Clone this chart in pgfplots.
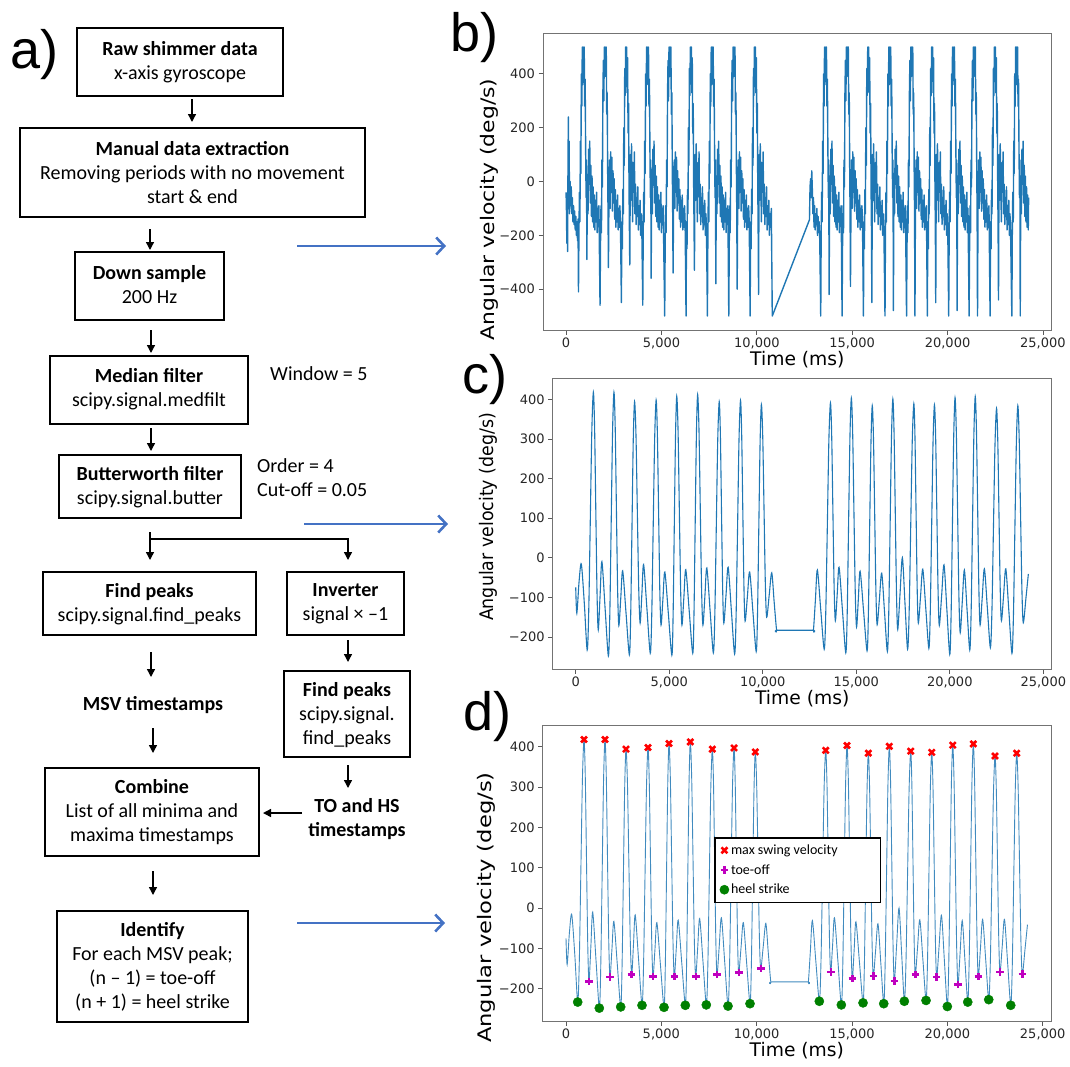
\documentclass[border=0pt]{standalone}
\usepackage{pgfplots}
\pgfplotsset{compat=1.18}
\usepackage{pgfplotstable}
\usepackage{fontspec}
\setmainfont{Carlito}
\newfontfamily\dejavu{DejaVu Sans}
\newfontfamily\arialf{Liberation Sans}
\usetikzlibrary{arrows.meta}

\definecolor{c0}{HTML}{1F77B4}
\definecolor{flowblue}{HTML}{4472C4}
\definecolor{mplgreen}{rgb}{0,0.5,0}
\definecolor{mplmag}{rgb}{0.75,0,0.75}

% filtered gyroscope signal (panels c and d)
\pgfplotstableread{
t v
0 -75
60 -140
180 -60
300 -16
460 -115
613 -233
696 -135
779 93
861 320
944 418
1010 328
1075 118
1141 -92
1206 -182
1303 -96
1400 -10
1573 -129
1746 -248
1821 -148
1896 85
1970 318
2045 418
2111 330
2176 123
2242 -83
2307 -171
2409 -102
2510 -33
2689 -139
2868 -245
2938 -149
3008 75
3077 298
3147 394
3222 310
3296 114
3371 -81
3445 -165
3538 -91
3630 -17
3808 -129
3986 -241
4065 -145
4143 79
4222 302
4300 398
4366 313
4432 114
4497 -85
4563 -170
4664 -103
4765 -36
4953 -141
5140 -246
5206 -148
5271 81
5337 310
5402 408
5472 321
5541 119
5611 -83
5680 -170
5783 -100
5885 -30
6071 -136
6257 -241
6323 -143
6388 86
6454 314
6519 412
6590 325
6661 121
6731 -83
6802 -170
6906 -98
7010 -26
7184 -133
7358 -240
7437 -145
7516 77
7594 299
7673 394
7735 310
7796 114
7858 -81
7919 -165
8035 -95
8150 -24
8323 -134
8496 -243
8575 -147
8654 77
8732 301
8811 397
8873 313
8934 118
8996 -76
9057 -160
9179 -98
9300 -36
9475 -137
9650 -237
9720 -143
9789 75
9859 293
9928 387
9999 306
10070 118
10140 -69
10211 -150
10346 -94
10480 -38
10610 -112
10740 -183
10800 -183
12650 -183
12710 -183
12815 -107
12920 -31
13100 -131
13285 -231
13369 -138
13453 80
13536 298
13620 391
13686 308
13751 116
13817 -77
13882 -159
13981 -92
14080 -24
14260 -132
14439 -240
14514 -144
14588 82
14663 307
14737 403
14807 316
14876 114
14946 -88
15015 -175
15110 -105
15205 -34
15391 -135
15577 -235
15647 -142
15716 75
15786 291
15855 384
15920 301
15986 107
16051 -86
16116 -169
16238 -104
16360 -39
16512 -138
16663 -237
16736 -141
16810 82
16883 305
16956 401
17021 314
17087 110
17152 -94
17217 -181
17341 -90
17465 0
17604 -115
17743 -231
17827 -138
17911 79
17994 296
18078 389
18138 306
18198 112
18258 -82
18318 -165
18437 -97
18555 -29
18718 -129
18881 -229
18956 -137
19031 79
19105 294
19180 386
19245 302
19310 107
19375 -87
19440 -171
19565 -95
19690 -18
19844 -131
19998 -244
20069 -147
20140 80
20210 307
20281 404
20350 315
20420 107
20489 -100
20558 -189
20669 -110
20780 -31
20924 -132
21068 -233
21141 -137
21215 87
21288 311
21361 407
21426 320
21492 118
21557 -83
21622 -170
21736 -99
21850 -28
22010 -128
22169 -227
22252 -136
22334 75
22417 286
22499 377
22565 297
22630 109
22696 -79
22761 -159
22878 -94
22995 -28
23159 -135
23323 -241
23402 -147
23480 72
23559 290
23637 384
23710 302
23784 110
23857 -82
23930 -164
24075 -100
24200 -41
}\filtered

\pgfplotstableread{
t v
944 418
2045 418
3147 394
4300 398
5402 408
6519 412
7673 394
8811 397
9928 387
13620 391
14737 403
15855 384
16956 401
18078 389
19180 386
20281 404
21361 407
22499 377
23637 384
}\msv

\pgfplotstableread{
t v
1206 -182
2307 -171
3445 -165
4563 -170
5680 -170
6802 -170
7919 -165
9057 -160
10211 -150
13882 -159
15015 -175
16116 -169
17217 -181
18318 -165
19440 -171
20558 -189
21622 -170
22761 -159
23930 -164
}\toeoff

\pgfplotstableread{
t v
613 -233
1746 -248
2868 -245
3986 -241
5140 -246
6257 -241
7358 -240
8496 -243
9650 -237
13285 -231
14439 -240
15577 -235
16663 -237
17743 -231
18881 -229
19998 -244
21068 -233
22169 -227
23323 -241
}\heel

\pgfplotsset{
  sigaxis/.style={
    scale only axis,
    scaled x ticks=false, scaled y ticks=false,
    axis line style={black!55, line width=0.8pt},
    every tick/.style={black!65, line width=0.8pt},
    tick align=outside, tick pos=left, major tick length=4.5pt,
    xtick={0,5000,10000,15000,20000,25000},
    xticklabels={0,{5,000},{10,000},{15,000},{20,000},{25,000}},
    ticklabel style={font=\dejavu\fontsize{13}{15}\selectfont, text=black!85},
    xlabel={Time (ms)},
    every axis x label/.style={at={(axis description cs:0.5,0)}, anchor=base, yshift=-35pt, inner sep=0pt,
      font=\dejavu\fontsize{18.7}{22}\selectfont},
  }
}

\tikzset{
  ft/.style={align=center, font=\fontsize{20}{24}\selectfont, inner sep=0pt},
  bx/.style={line width=1.8pt},
  arr/.style={line width=1.4pt, -{Triangle[length=8pt,width=8pt]}},
  barr/.style={flowblue, line width=2.6pt, -{Straight Barb[length=8pt,width=17pt,line width=2.6pt]}},
  ylab/.style={rotate=90, anchor=center, inner sep=0pt, font=\dejavu\fontsize{18.7}{22}\selectfont},
}

\begin{document}
\begin{tikzpicture}
\path[use as bounding box] (0pt,0pt) rectangle (1070pt,-1066pt);

\begin{scope}[x=1pt,y=-1pt]
% panel letters
\node[font=\arialf\fontsize{54}{60}\selectfont, anchor=base west, inner sep=0pt] at (10,68) {a)};
\node[font=\arialf\fontsize{54}{60}\selectfont, anchor=base west, inner sep=0pt] at (450,51.7) {b)};
\node[font=\arialf\fontsize{54}{60}\selectfont, anchor=base west, inner sep=0pt] at (462,393.3) {c)};
\node[font=\arialf\fontsize{54}{60}\selectfont, anchor=base west, inner sep=0pt] at (463,730) {d)};

% flowchart boxes
\draw[bx] (77,28) rectangle (283,96);
\node[ft] at (180,62) {\textbf{Raw shimmer data}\\x-axis gyroscope};
\draw[bx] (20,128) rectangle (365,217);
\node[ft] at (192.5,172.5) {\textbf{Manual data extraction}\\Removing periods with no movement\\start \& end};
\draw[bx] (75,252) rectangle (224,320);
\node[ft] at (149.5,285) {\textbf{Down sample}\\200 Hz};
\draw[bx] (50,356) rectangle (248,424);
\node[ft] at (149,389) {\textbf{Median filter}\\scipy.signal.medfilt};
\node[ft, anchor=west] at (270,374) {Window = 5};
\draw[bx] (59,455) rectangle (241,518);
\node[ft] at (150,487) {\textbf{Butterworth filter}\\scipy.signal.butter};
\node[ft, anchor=west, align=left] at (257,478) {Order = 4\\Cut-off = 0.05};
\draw[bx] (43,572) rectangle (256,635);
\node[ft] at (149.5,604) {\textbf{Find peaks}\\scipy.signal.find\_peaks};
\draw[bx] (287,572) rectangle (404,635);
\node[ft] at (345.5,604) {\textbf{Inverter}\\signal × –1};
\draw[bx] (284,671) rectangle (410,757);
\node[ft] at (347,715) {\textbf{Find peaks}\\scipy.signal.\\find\_peaks};
\node[ft] at (153,705) {\textbf{MSV timestamps}};
\node[ft] at (357,819) {\textbf{TO and HS}\\\textbf{timestamps}};
\draw[bx] (45,768) rectangle (259,856);
\node[ft] at (152,812.5) {\textbf{Combine}\\List of all minima and\\maxima timestamps};
\draw[bx] (57,911) rectangle (248,1022);
\node[ft] at (152.5,966.5) {\textbf{Identify}\\For each MSV peak;\\(n – 1) = toe-off\\(n + 1) = heel strike};

% black arrows
\draw[arr] (192,99) -- (192,122);
\draw[arr] (150,229) -- (150,250);
\draw[arr] (151,330) -- (151,353);
\draw[arr] (151,428) -- (151,451);
\draw[arr] (150,532) -- (150,560);
\draw[arr] (150,539) -- (348,539) -- (348,560);
\draw[arr] (151,652) -- (151,677);
\draw[arr] (348,640) -- (348,662);
\draw[arr] (153,728) -- (153,753);
\draw[arr] (348,765) -- (348,788);
\draw[arr] (302,813) -- (263,813);
\draw[arr] (153,871) -- (153,895);

% blue arrows
\draw[barr] (297,246) -- (446,246);
\draw[barr] (304,524) -- (448,524);
\draw[barr] (297,923) -- (445,923);
\end{scope}

% b) raw signal
\begin{axis}[sigaxis, at={(543pt,-33pt)}, anchor=north west,
  width=508.7pt, height=297pt,
  xmin=-1210, xmax=25460, ymin=-552, ymax=552,
  ytick={-400,-200,0,200,400}, yticklabels={−400,−200,0,200,400},
  ylabel={\scalebox{1.17}[1]{Angular velocity (deg/s)}},
  every axis y label/.style={at={(axis description cs:-0.106,0.406)}, ylab},
]
\addplot[c0, line width=1.4pt, line join=round] coordinates {
(0,-40) (20,-110) (40,-230) (60,-60) (80,-260) (100,60) (120,240) (140,-20) (160,150) (180,-120)
(210,0) (240,-90) (270,-20) (300,-120) (330,-60) (360,-150) (390,-90) (420,-160) (450,-110) (480,-180)
(510,-130) (540,-200) (570,-150) (600,-220) (625,-140)
(650,-410) (675,-180) (700,-40) (725,-150) (750,150) (775,30) (800,400) (825,280) (850,500) (875,360)
(900,500) (925,430) (950,500) (975,280) (1000,380) (1025,120) (1050,-60) (1070,80) (1090,-290)
(1120,20) (1150,-120) (1180,120) (1210,-10) (1240,150) (1270,-80) (1300,60) (1330,-130) (1360,20) (1390,-150)
(1420,-20) (1450,-170) (1480,-50) (1510,-180) (1540,-70) (1570,-150) (1600,-40) (1630,-190) (1660,-100) (1690,-160) (1720,-90)
(1780,-460) (1805,-230) (1830,-90) (1855,-190) (1880,80) (1905,-20) (1930,330) (1955,450) (1980,300) (2005,500)
(2030,390) (2055,500) (2080,450) (2105,500) (2130,250) (2155,330) (2180,40) (2200,-120) (2220,-320)
(2250,-30) (2280,80) (2310,-100) (2340,110) (2370,-40) (2400,90) (2430,-110) (2460,40) (2490,-80) (2520,10)
(2550,-140) (2580,-30) (2610,-170) (2640,-70) (2670,-150) (2700,-50) (2730,-180) (2760,-100) (2790,-170) (2820,-90) (2850,-150)
(2900,-450) (2925,-150) (2950,-250) (2975,-30) (3000,-120) (3025,200) (3050,60) (3075,420) (3100,320) (3125,500)
(3150,440) (3175,500) (3200,330) (3225,460) (3250,180) (3275,290) (3300,-20) (3320,-170) (3340,-310)
(3370,100) (3400,-70) (3430,140) (3460,10) (3490,-150) (3520,70) (3550,-40) (3580,110) (3610,-120) (3640,-10)
(3670,-160) (3700,-60) (3730,-130) (3760,-20) (3790,-180) (3820,-90) (3850,-160) (3880,-70) (3910,-200) (3940,-120) (3970,-170)
(4020,-460) (4045,-180) (4070,-40) (4095,-150) (4120,150) (4145,30) (4170,400) (4195,280) (4220,500) (4245,360)
(4270,500) (4295,430) (4320,500) (4345,280) (4370,380) (4395,120) (4420,-60) (4440,80) (4460,-360)
(4490,20) (4520,-120) (4550,120) (4580,-10) (4610,150) (4640,-80) (4670,60) (4700,-130) (4730,20) (4760,-150)
(4790,-20) (4820,-170) (4850,-50) (4880,-180) (4910,-70) (4940,-150) (4970,-40) (5000,-190) (5030,-100) (5060,-160) (5090,-90)
(5170,-500) (5195,-230) (5220,-90) (5245,-190) (5270,80) (5295,-20) (5320,330) (5345,450) (5370,300) (5395,500)
(5420,390) (5445,500) (5470,450) (5495,500) (5520,250) (5545,330) (5570,40) (5590,-120) (5610,-340)
(5640,-30) (5670,80) (5700,-100) (5730,110) (5760,-40) (5790,90) (5820,-110) (5850,40) (5880,-80) (5910,10)
(5940,-140) (5970,-30) (6000,-170) (6030,-70) (6060,-150) (6090,-50) (6120,-180) (6150,-100) (6180,-170) (6210,-90) (6240,-150)
(6290,-500) (6315,-150) (6340,-250) (6365,-30) (6390,-120) (6415,200) (6440,60) (6465,420) (6490,320) (6515,500)
(6540,440) (6565,500) (6590,330) (6615,460) (6640,180) (6665,290) (6690,-20) (6710,-170) (6730,-330)
(6760,100) (6790,-70) (6820,140) (6850,10) (6880,-150) (6910,70) (6940,-40) (6970,110) (7000,-120) (7030,-10)
(7060,-160) (7090,-60) (7120,-130) (7150,-20) (7180,-180) (7210,-90) (7240,-160) (7270,-70) (7300,-200) (7330,-120) (7360,-170)
(7410,-500) (7435,-180) (7460,-40) (7485,-150) (7510,150) (7535,30) (7560,400) (7585,280) (7610,500) (7635,360)
(7660,500) (7685,430) (7710,500) (7735,280) (7760,380) (7785,120) (7810,-60) (7830,80) (7850,-380)
(7880,20) (7910,-120) (7940,120) (7970,-10) (8000,150) (8030,-80) (8060,60) (8090,-130) (8120,20) (8150,-150)
(8180,-20) (8210,-170) (8240,-50) (8270,-180) (8300,-70) (8330,-150) (8360,-40) (8390,-190) (8420,-100) (8450,-160) (8480,-90)
(8530,-500) (8555,-230) (8580,-90) (8605,-190) (8630,80) (8655,-20) (8680,330) (8705,450) (8730,300) (8755,500)
(8780,390) (8805,500) (8830,450) (8855,500) (8880,250) (8905,330) (8930,40) (8950,-120) (8970,-400)
(9000,-30) (9030,80) (9060,-100) (9090,110) (9120,-40) (9150,90) (9180,-110) (9210,40) (9240,-80) (9270,10)
(9300,-140) (9330,-30) (9360,-170) (9390,-70) (9420,-150) (9450,-50) (9480,-180) (9510,-100) (9540,-170) (9570,-90) (9600,-150)
(9650,-500) (9675,-150) (9700,-250) (9725,-30) (9750,-120) (9775,200) (9800,60) (9825,420) (9850,320) (9875,500)
(9900,440) (9925,500) (9950,330) (9975,460) (10000,180) (10025,290) (10050,-20) (10070,-170) (10090,-420)
(10120,100) (10150,-70) (10180,140) (10210,10) (10240,-150) (10270,70) (10300,-40) (10330,110) (10360,-120) (10390,-10)
(10420,-160) (10450,-60) (10480,-130) (10510,-20) (10540,-180) (10570,-90) (10600,-160) (10630,-70) (10660,-200) (10690,-120) (10720,-170)
(10760,-100) (10810,-500) (12760,-142)
(12790,-20) (12820,10) (12850,-60) (12880,40) (12910,-30) (12940,-120) (12970,-60) (13000,-170) (13030,-90) (13060,-180)
(13090,-120) (13120,-160) (13150,-100) (13180,-200) (13210,-130) (13240,-190) (13270,-150) (13300,-220)
(13350,-500) (13375,-180) (13400,-40) (13425,-150) (13450,150) (13475,30) (13500,400) (13525,280) (13550,500) (13575,360)
(13600,500) (13625,430) (13650,500) (13675,280) (13700,380) (13725,120) (13750,-60) (13770,80) (13790,-420)
(13820,20) (13850,-120) (13880,120) (13910,-10) (13940,150) (13970,-80) (14000,60) (14030,-130) (14060,20) (14090,-150)
(14120,-20) (14150,-170) (14180,-50) (14210,-180) (14240,-70) (14270,-150) (14300,-40) (14330,-190) (14360,-100) (14390,-160) (14420,-90)
(14470,-500) (14495,-230) (14520,-90) (14545,-190) (14570,80) (14595,-20) (14620,330) (14645,450) (14670,300) (14695,500)
(14720,390) (14745,500) (14770,450) (14795,500) (14820,250) (14845,330) (14870,40) (14890,-120) (14910,-390)
(14940,-30) (14970,80) (15000,-100) (15030,110) (15060,-40) (15090,90) (15120,-110) (15150,40) (15180,-80) (15210,10)
(15240,-140) (15270,-30) (15300,-170) (15330,-70) (15360,-150) (15390,-50) (15420,-180) (15450,-100) (15480,-170) (15510,-90) (15540,-150)
(15590,-500) (15615,-150) (15640,-250) (15665,-30) (15690,-120) (15715,200) (15740,60) (15765,420) (15790,320) (15815,500)
(15840,440) (15865,500) (15890,330) (15915,460) (15940,180) (15965,290) (15990,-20) (16010,-170) (16030,-450)
(16060,100) (16090,-70) (16120,140) (16150,10) (16180,-150) (16210,70) (16240,-40) (16270,110) (16300,-120) (16330,-10)
(16360,-160) (16390,-60) (16420,-130) (16450,-20) (16480,-180) (16510,-90) (16540,-160) (16570,-70) (16600,-200) (16630,-120) (16660,-170)
(16720,-500) (16745,-180) (16770,-40) (16795,-150) (16820,150) (16845,30) (16870,400) (16895,280) (16920,500) (16945,360)
(16970,500) (16995,430) (17020,500) (17045,280) (17070,380) (17095,120) (17120,-60) (17140,80) (17160,-480)
(17190,20) (17220,-120) (17250,120) (17280,-10) (17310,150) (17340,-80) (17370,60) (17400,-130) (17430,20) (17460,-150)
(17490,-20) (17520,-170) (17550,-50) (17580,-180) (17610,-70) (17640,-150) (17670,-40) (17700,-190) (17730,-100) (17760,-160) (17790,-90)
(17850,-500) (17875,-230) (17900,-90) (17925,-190) (17950,80) (17975,-20) (18000,330) (18025,450) (18050,300) (18075,500)
(18100,390) (18125,500) (18150,450) (18175,500) (18200,250) (18225,330) (18250,40) (18270,-120) (18290,-500)
(18320,-30) (18350,80) (18380,-100) (18410,110) (18440,-40) (18470,90) (18500,-110) (18530,40) (18560,-80) (18590,10)
(18620,-140) (18650,-30) (18680,-170) (18710,-70) (18740,-150) (18770,-50) (18800,-180) (18830,-100) (18860,-170) (18890,-90)
(18940,-500) (18965,-150) (18990,-250) (19015,-30) (19040,-120) (19065,200) (19090,60) (19115,420) (19140,320) (19165,500)
(19190,440) (19215,500) (19240,330) (19265,460) (19290,180) (19315,290) (19340,-20) (19360,-170) (19380,-450)
(19410,100) (19440,-70) (19470,140) (19500,10) (19530,-150) (19560,70) (19590,-40) (19620,110) (19650,-120) (19680,-10)
(19710,-160) (19740,-60) (19770,-130) (19800,-20) (19830,-180) (19860,-90) (19890,-160) (19920,-70) (19950,-200) (19980,-120) (20010,-170)
(20060,-500) (20085,-180) (20110,-40) (20135,-150) (20160,150) (20185,30) (20210,400) (20235,280) (20260,500) (20285,360)
(20310,500) (20335,430) (20360,500) (20385,280) (20410,380) (20435,120) (20460,-60) (20480,80) (20500,-480)
(20530,20) (20560,-120) (20590,120) (20620,-10) (20650,150) (20680,-80) (20710,60) (20740,-130) (20770,20) (20800,-150)
(20830,-20) (20860,-170) (20890,-50) (20920,-180) (20950,-70) (20980,-150) (21010,-40) (21040,-190) (21070,-100)
(21130,-500) (21155,-230) (21180,-90) (21205,-190) (21230,80) (21255,-20) (21280,330) (21305,450) (21330,300) (21355,500)
(21380,390) (21405,500) (21430,450) (21455,500) (21480,250) (21505,330) (21530,40) (21550,-120) (21570,-500)
(21600,-30) (21630,80) (21660,-100) (21690,110) (21720,-40) (21750,90) (21780,-110) (21810,40) (21840,-80) (21870,10)
(21900,-140) (21930,-30) (21960,-170) (21990,-70) (22020,-150) (22050,-50) (22080,-180) (22110,-100) (22140,-170) (22170,-90)
(22230,-500) (22255,-150) (22280,-250) (22305,-30) (22330,-120) (22355,200) (22380,60) (22405,420) (22430,320) (22455,500)
(22480,440) (22505,500) (22530,330) (22555,460) (22580,180) (22605,290) (22630,-20) (22650,-170) (22670,-440)
(22700,100) (22730,-70) (22760,140) (22790,10) (22820,-150) (22850,70) (22880,-40) (22910,110) (22940,-120) (22970,-10)
(23000,-160) (23030,-60) (23060,-130) (23090,-20) (23120,-180) (23150,-90) (23180,-160) (23210,-70) (23240,-200) (23270,-120) (23300,-170)
(23370,-500) (23395,-180) (23420,-40) (23445,-150) (23470,150) (23495,30) (23520,400) (23545,280) (23570,500) (23595,360)
(23620,500) (23645,430) (23670,500) (23695,280) (23720,380) (23745,120) (23770,-60) (23790,80) (23810,-500)
(23840,20) (23870,-120) (23900,120) (23930,-10) (23960,150) (23990,-80) (24020,60) (24050,-130) (24080,20) (24110,-150)
(24140,-20) (24170,-170) (24200,-50) (24230,-180) (24250,-60)
};
\end{axis}

% c) filtered signal
\begin{axis}[sigaxis, at={(552.7pt,-378.3pt)}, anchor=north west,
  width=499pt, height=290.7pt,
  xmin=-1230, xmax=25449, ymin=-281, ymax=453,
  ytick={-200,-100,0,100,200,300,400}, yticklabels={−200,−100,0,100,200,300,400},
  ylabel={\scalebox{0.93}[1]{Angular velocity (deg/s)}},
  every axis y label/.style={at={(axis description cs:-0.128,0.523)}, ylab},
]
\addplot[c0, line width=1.1pt, smooth] table {\filtered};
\end{axis}

% d) filtered signal with detected events
\begin{axis}[sigaxis, at={(542.7pt,-725pt)}, anchor=north west,
  width=508.3pt, height=296pt,
  xmin=-1222, xmax=25435, ymin=-280, ymax=453.8,
  ytick={-200,-100,0,100,200,300,400}, yticklabels={−200,−100,0,100,200,300,400},
  ylabel={\scalebox{1.21}[1]{Angular velocity (deg/s)}},
  every axis y label/.style={at={(axis description cs:-0.110,0.383)}, ylab},
  legend style={at={(axis description cs:0.337,0.622)}, anchor=north west,
    draw=black, line width=1.6pt, font=\fontsize{14}{16}\selectfont,
    row sep=4.5pt, inner xsep=5pt, inner ysep=5pt},
  legend cell align=left,
]
\addplot[c0!85, line width=0.9pt, smooth, forget plot] table {\filtered};
\addplot[only marks, red, mark=x, mark size=4.2pt, mark options={line width=2.6pt}] table {\msv};
\addlegendentry{max swing velocity\hspace*{36pt}}
\addplot[only marks, mplmag, mark=+, mark size=3.8pt, mark options={line width=2.4pt}] table {\toeoff};
\addlegendentry{toe-off}
\addplot[only marks, mplgreen, mark=*, mark size=4.6pt, mark options={line width=0.4pt, fill=mplgreen}] table {\heel};
\addlegendentry{heel strike}
\end{axis}

\end{tikzpicture}
\end{document}
